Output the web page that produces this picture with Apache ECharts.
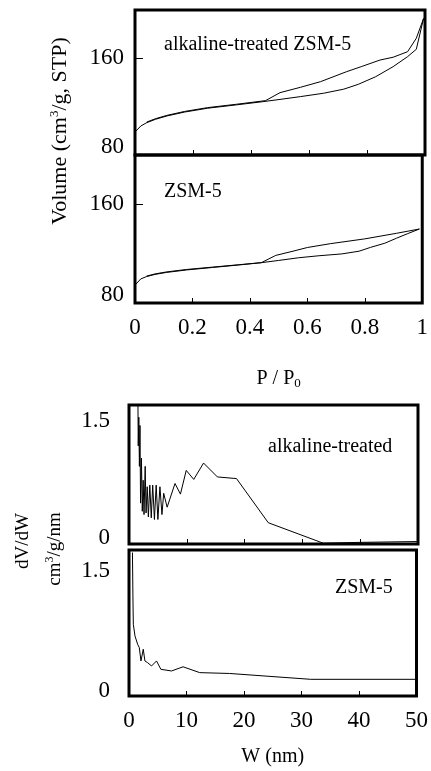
<!DOCTYPE html>
<html><head><meta charset="utf-8">
<script src="https://cdn.jsdelivr.net/npm/echarts@6/dist/echarts.min.js"></script>
<style>html,body{margin:0;padding:0;background:#fff}#c{width:431px;height:771px}</style>
</head><body><div id="c"></div>
<script>
// ---- Isotherm: alkaline-treated ZSM-5 ----
const alkAdsP = [0.002, 0.02, 0.04, 0.07, 0.11, 0.17, 0.25, 0.35, 0.44, 0.5, 0.57, 0.65, 0.72, 0.77, 0.83, 0.89, 0.94, 0.97, 0.995];
const alkAdsV = [99.5, 104, 106.7, 109.5, 112.3, 115.5, 118.7, 121.5, 124.1, 126, 128.3, 131.1, 134.5, 138.5, 144.8, 153.1, 161.4, 167.5, 193];
const alkDesP = [0.995, 0.97, 0.94, 0.89, 0.845, 0.78, 0.73, 0.64, 0.57, 0.5, 0.45, 0.35, 0.25, 0.17, 0.11, 0.07, 0.04];
const alkDesV = [193, 176.6, 165.5, 160.9, 158.6, 153.1, 149, 140.7, 136, 131.6, 125, 122, 119.2, 116, 112.8, 110, 107.2];
// ---- Isotherm: ZSM-5 ----
const zsmAdsP = [0.002, 0.02, 0.04, 0.07, 0.11, 0.18, 0.27, 0.36, 0.44, 0.5, 0.57, 0.64, 0.72, 0.78, 0.82, 0.87, 0.91, 0.95, 0.99];
const zsmAdsV = [95, 99.5, 101.4, 103.2, 104.8, 106.8, 108.8, 110.8, 112.7, 114.5, 116.7, 118.3, 119.8, 122, 125.1, 128.5, 132.5, 136.3, 140];
const zsmDesP = [0.99, 0.91, 0.8, 0.68, 0.6, 0.55, 0.49, 0.44, 0.36, 0.27, 0.18, 0.11, 0.07, 0.04];
const zsmDesV = [140, 136.5, 132, 128.1, 125, 122, 118.6, 112.7, 111, 109.1, 107.2, 105.2, 103.6, 101.8];
// ---- Pore size distribution: alkaline-treated ----
const alkW  = [1.55, 1.6, 1.7, 1.8, 1.9, 2.0, 2.15, 2.3, 2.45, 2.6, 2.8, 2.95, 3.15, 3.35, 3.6, 3.85, 4.1, 4.4, 4.7, 5.0, 5.35, 5.7, 6.0, 6.6, 7.96, 8.9, 9.9, 11.2, 12.9, 15.3, 18.6, 24.1, 33.6, 40, 49.8];
const alkDV = [1.70, 1.2, 1.55, 0.95, 1.45, 0.5, 1.05, 0.4, 0.78, 0.36, 0.95, 0.38, 0.7, 0.33, 0.72, 0.32, 0.72, 0.3, 0.72, 0.3, 0.7, 0.36, 0.62, 0.45, 0.74, 0.61, 0.9, 0.79, 0.99, 0.82, 0.80, 0.26, 0.01, 0.02, 0.03];
// ---- Pore size distribution: ZSM-5 ----
const zsmW  = [0.6, 0.68, 0.75, 1.04, 1.5, 1.79, 2.08, 2.48, 2.77, 3.23, 3.92, 4.79, 5.54, 7.4, 9.4, 12.3, 17.5, 31.6, 49.8];
const zsmDV = [1.72, 1.2, 0.86, 0.72, 0.62, 0.58, 0.42, 0.56, 0.42, 0.40, 0.36, 0.42, 0.32, 0.30, 0.35, 0.28, 0.27, 0.20, 0.20];
// ---- tick values ----
const isoTickStep = 0.2, volTickStep = 80, psdTickStep = 10, dvTickStep = 1.5;

const FF = '"Liberation Serif", "Times New Roman", serif';
const zip = (a, b) => a.map((v, i) => [v, b[i]]);

function xAx(gi, min, max, step, showLabel, name, gap) {
  return {
    type: 'value', gridIndex: gi, min: min, max: max, interval: step,
    axisLine: {show: false}, splitLine: {show: false},
    axisTick: {show: true, inside: true, length: 5, lineStyle: {color: '#000', width: 1}},
    axisLabel: {show: showLabel, color: '#000', fontFamily: FF, fontSize: 23, margin: 13},
    name: name || '', nameLocation: 'middle', nameGap: gap || 0,
    nameTextStyle: {color: '#000', fontFamily: FF, fontSize: 20,
      rich: {sub: {fontFamily: FF, fontSize: 13, padding: [10, 0, 0, 0], color: '#000'}}}
  };
}
function yAx(gi, min, max, step, tick, lowVal, lowPad, margin) {
  return {
    type: 'value', gridIndex: gi, min: min, max: max, interval: step,
    axisLine: {show: false}, splitLine: {show: false},
    axisTick: {show: tick, inside: true, length: 8, lineStyle: {color: '#000', width: 1}},
    axisLabel: {color: '#000', fontFamily: FF, fontSize: 23, margin: margin, showMaxLabel: false,
      formatter: v => v === lowVal ? '{lo|' + v + '}' : String(v),
      rich: {lo: {fontFamily: FF, fontSize: 23, color: '#000', padding: [0, 0, lowPad, 0]}}}
  };
}
function line(i, data) {
  return {type: 'line', xAxisIndex: i, yAxisIndex: i, data: data, showSymbol: false, symbol: 'none',
    lineStyle: {color: '#000', width: 1}, clip: true, silent: true};
}
const gridBase = {show: true, borderColor: '#000', borderWidth: 3, backgroundColor: 'transparent', containLabel: false};

const option = {
  animation: false,
  backgroundColor: '#fff',
  grid: [
    Object.assign({left: 135, top: 10, width: 290, height: 145}, gridBase),
    Object.assign({left: 135, top: 155, width: 290, height: 148}, gridBase),
    Object.assign({left: 129, top: 405, width: 289, height: 139}, gridBase),
    Object.assign({left: 129, top: 550, width: 290, height: 146}, gridBase)
  ],
  xAxis: [
    xAx(0, 0, 1, isoTickStep, false),
    xAx(1, 0, 1, isoTickStep, true, 'P / P{sub|0}', 64),
    xAx(2, 0, 50, psdTickStep, false),
    xAx(3, 0, 50, psdTickStep, true, 'W (nm)', 51)
  ],
  yAxis: [
    yAx(0, 80, 200, volTickStep, true, 80, 16, 11),
    yAx(1, 80, 200, volTickStep, true, 80, 16, 11),
    yAx(2, 0, 1.7, dvTickStep, false, 0, 12, 19),
    yAx(3, 0, 1.75, dvTickStep, false, 0, 10, 19)
  ],
  series: [
    line(0, zip(alkAdsP, alkAdsV)),
    line(0, zip(alkDesP, alkDesV)),
    line(1, zip(zsmAdsP, zsmAdsV)),
    line(1, zip(zsmDesP, zsmDesV)),
    line(2, zip(alkW, alkDV)),
    line(3, zip(zsmW, zsmDV))
  ],
  graphic: [
    {type: 'text', style: {text: 'alkaline-treated ZSM-5', x: 164, y: 45, font: '20px ' + FF, fill: '#000', align: 'left', verticalAlign: 'middle'}},
    {type: 'text', style: {text: 'ZSM-5', x: 164, y: 192, font: '20px ' + FF, fill: '#000', align: 'left', verticalAlign: 'middle'}},
    {type: 'text', style: {text: 'alkaline-treated', x: 268, y: 447, font: '20px ' + FF, fill: '#000', align: 'left', verticalAlign: 'middle'}},
    {type: 'text', style: {text: 'ZSM-5', x: 335, y: 588, font: '20px ' + FF, fill: '#000', align: 'left', verticalAlign: 'middle'}},
    {type: 'text', x: 60, y: 131, rotation: Math.PI / 2,
      style: {text: 'Volume (cm{sup|3}/g, STP)', x: 0, y: 0, font: '22px ' + FF, fill: '#000', align: 'center', verticalAlign: 'middle',
        rich: {sup: {fontFamily: FF, fontSize: 13, fill: '#000', padding: [0, 0, 10, 0]}}}},
    {type: 'text', x: 23, y: 541, rotation: Math.PI / 2,
      style: {text: 'dV/dW', x: 0, y: 0, font: '19px ' + FF, fill: '#000', align: 'center', verticalAlign: 'middle'}},
    {type: 'text', x: 55, y: 549, rotation: Math.PI / 2,
      style: {text: 'cm{sup|3}/g/nm', x: 0, y: 0, font: '19px ' + FF, fill: '#000', align: 'center', verticalAlign: 'middle',
        rich: {sup: {fontFamily: FF, fontSize: 12, fill: '#000', padding: [0, 0, 10, 0]}}}}
  ]
};
const chart = echarts.init(document.getElementById('c'), null, {renderer: 'canvas'});
chart.setOption(option);
</script>
</body></html>
